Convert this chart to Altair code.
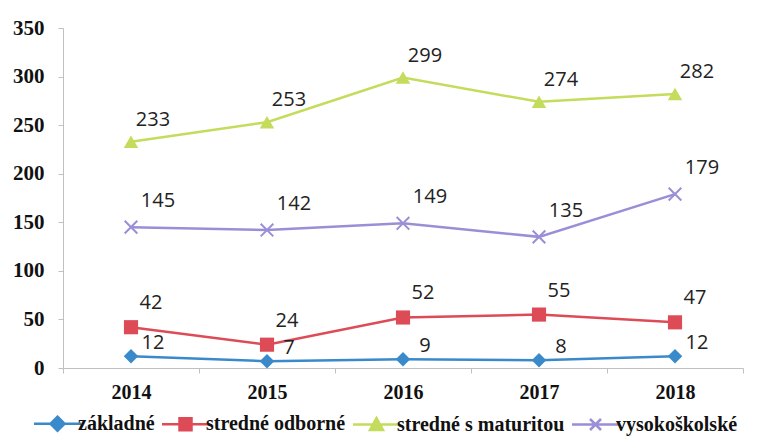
import altair as alt
import pandas as pd

years = ["2014", "2015", "2016", "2017", "2018"]
series_names = ["základné", "stredné odborné", "stredné s maturitou", "vysokoškolské"]
zakladne = [12, 7, 9, 8, 12]
odborne = [42, 24, 52, 55, 47]
maturita = [233, 253, 299, 274, 282]
vysoke = [145, 142, 149, 135, 179]
colors = ["#3a8acb", "#dd4b57", "#c3dc5c", "#9a8fd6"]
y_ticks = [0, 50, 100, 150, 200, 250, 300, 350]

values = [zakladne, odborne, maturita, vysoke]
rows = []
for name, vals in zip(series_names, values):
    for yr, v in zip(years, vals):
        rows.append({"year": yr, "series": name, "value": v})
df = pd.DataFrame(rows)

x_enc = alt.X("year:O", bandPosition=0.5,
              scale=alt.Scale(type="band", paddingInner=0, paddingOuter=0, domain=years),
              axis=alt.Axis(title=None, labelAngle=0, tickBand="extent", tickSize=5,
                            labelPadding=9, domainColor="#c0c0c0", tickColor="#c0c0c0",
                            labelFont="Liberation Serif", labelFontSize=20,
                            labelFontWeight="bold", labelColor="#111"))
y_enc = alt.Y("value:Q", scale=alt.Scale(domain=[0, 350], nice=False),
              axis=alt.Axis(title=None, values=y_ticks, grid=False, tickSize=5,
                            labelPadding=14, domainColor="#c0c0c0", tickColor="#c0c0c0",
                            labelFont="Liberation Serif", labelFontSize=21,
                            labelFontWeight="bold", labelColor="#111"))

color_scale = alt.Scale(domain=series_names, range=colors)

base = alt.Chart(df)

lines = base.mark_line(strokeWidth=2.5).encode(
    x=x_enc, y=y_enc, color=alt.Color("series:N", scale=color_scale, legend=None)
)

marker_shapes = ["diamond", "square", "triangle-up", "M-1,-1L1,1M-1,1L1,-1"]
marker_filled = [True, True, True, False]
marker_sizes = [210, 200, 210, 160]
label_dx = [22, 20, 22, 27]
label_dy = [-13, -24, -22, -26]

legend_paths = [
    "M-2.35,0H2.35M0,-0.7L0.7,0L0,0.7L-0.7,0Z",
    "M-2.35,0H2.35M-0.6,-0.6H0.6V0.6H-0.6Z",
    "M-2.35,0H2.35M0,-0.65L0.65,0.55H-0.65Z",
    "M-2.35,0H2.35M-0.55,-0.55L0.55,0.55M-0.55,0.55L0.55,-0.55",
]
leg = alt.Legend(title=None, orient="none", direction="horizontal", legendX=-17, legendY=384,
                 symbolSize=400, symbolStrokeWidth=2.5, symbolOpacity=1,
                 labelOffset=9, columnPadding=2, labelLimit=400,
                 labelFont="Liberation Serif", labelFontSize=20, labelFontWeight="bold",
                 labelColor="#111")
legend_layer = base.mark_point(filled=True, strokeWidth=2.5, opacity=0).encode(
    x=x_enc, y=y_enc,
    color=alt.Color("series:N", scale=color_scale, legend=leg),
    stroke=alt.Stroke("series:N", scale=alt.Scale(domain=series_names, range=colors), legend=leg),
    shape=alt.Shape("series:N", scale=alt.Scale(domain=series_names, range=legend_paths), legend=leg),
)

layers = [legend_layer, lines]
for i, name in enumerate(series_names):
    sub = base.transform_filter(alt.datum.series == name)
    layers.append(sub.mark_point(shape=marker_shapes[i], filled=marker_filled[i],
                                 size=marker_sizes[i], color=colors[i], opacity=1,
                                 strokeWidth=2).encode(x=x_enc, y=y_enc))
    layers.append(sub.mark_text(dx=label_dx[i], dy=label_dy[i], font="Open Sans",
                                fontSize=20, color="#222").encode(
        x=x_enc, y=y_enc, text="value:Q"))

chart = alt.layer(*layers).properties(
    width=680, height=340,
    padding={"left": 4, "top": 9, "right": 0, "bottom": 0},
).configure_view(stroke=None)

chart.save("out.html", embed_options={"renderer": "svg", "actions": False})
